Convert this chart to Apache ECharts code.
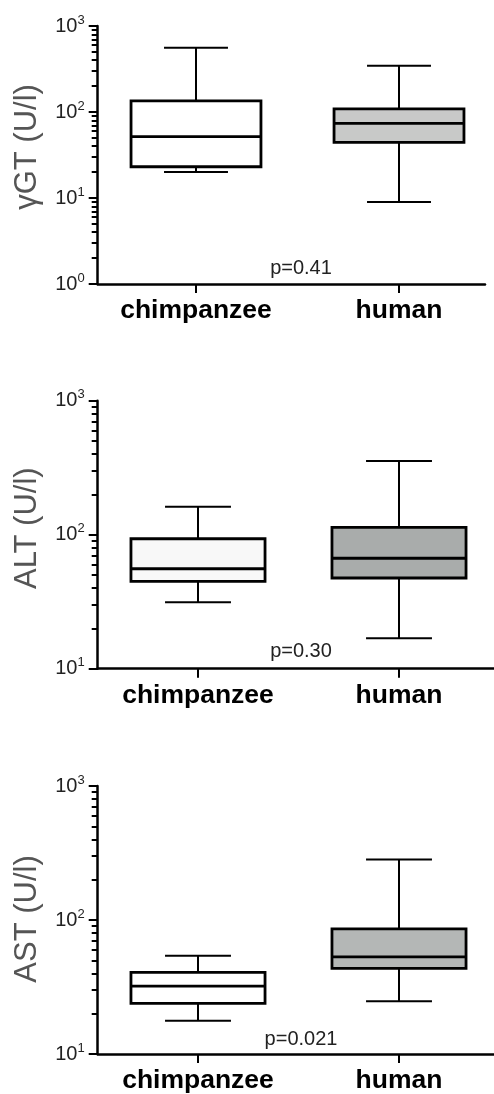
<!DOCTYPE html>
<html>
<head>
<meta charset="utf-8">
<script src="https://cdn.jsdelivr.net/npm/echarts@6/dist/echarts.min.js"></script>
<style>html,body{margin:0;padding:0;background:#fff}#c{width:494px;height:1094px}</style>
</head>
<body>
<div id="c"></div>
<script>
// ---- data (min, Q1, median, Q3, max) ----
var categories = ['chimpanzee', 'human'];
var ggtChimp = [20.1, 23.1, 51.6, 135, 560];
var ggtHuman = [9.0, 44.4, 73.9, 109, 346];
var altChimp = [31.3, 44.9, 55.7, 93.3, 162];
var altHuman = [16.9, 47.5, 66.7, 113.6, 355];
var astChimp = [17.7, 23.9, 32.1, 40.6, 54.0];
var astHuman = [24.8, 43.5, 53.1, 85.9, 283];
var yTitles = ['\u03b3GT (U/l)', 'ALT (U/l)', 'AST (U/l)'];
var pValues = ['p=0.41', 'p=0.30', 'p=0.021'];
var yMins = [1, 10, 10];
var yMax = 1000;

// ---- layout / style ----
var FONT = 'Liberation Sans, Arial, sans-serif';
var panels = [
  {top: 26, height: 258, width: 387.3, xmin: 0.5158, xmax: 2.4236, boxW: 0.64, capW: 0.315,
   fills: ['#ffffff', '#c8c9c8'], pLeft: 301, pTop: 258, nameShift: 16, data: [ggtChimp, ggtHuman]},
  {top: 400.7, height: 268, width: 396.3, xmin: 0.501, xmax: 2.4726, boxW: 0.667, capW: 0.328,
   fills: ['#f8f8f8', '#a9acab'], pLeft: 301, pTop: 641, nameShift: 13, data: [altChimp, altHuman]},
  {top: 786, height: 268.7, width: 396.3, xmin: 0.501, xmax: 2.4726, boxW: 0.667, capW: 0.328,
   fills: ['#ffffff', '#b4b7b6'], pLeft: 301, pTop: 1029, nameShift: 2, data: [astChimp, astHuman]}
];

function minorTicks(minV, maxV) {
  var out = [];
  for (var d = minV; d < maxV; d *= 10) {
    for (var k = 2; k <= 9; k++) out.push(Math.log10(k * d));
  }
  return out;
}

function makeRender(p) {
  return function (params, api) {
    var x = api.value(0);
    var mn = api.value(1), q1 = api.value(2), md = api.value(3), q3 = api.value(4), mx = api.value(5);
    var bl = api.coord([x - p.boxW / 2, q3]);
    var br = api.coord([x + p.boxW / 2, q1]);
    var cl = api.coord([x - p.capW / 2, mx])[0];
    var cr = api.coord([x + p.capW / 2, mx])[0];
    var pMax = api.coord([x, mx]), pMin = api.coord([x, mn]);
    var pQ1 = api.coord([x, q1]), pQ3 = api.coord([x, q3]), pMd = api.coord([x, md]);
    var wl = {stroke: '#000', lineWidth: 2, fill: null};
    var bw = {stroke: '#000', lineWidth: 2.8};
    return {
      type: 'group',
      children: [
        {type: 'line', shape: {x1: pMax[0], y1: pMax[1], x2: pQ3[0], y2: pQ3[1]}, style: wl},
        {type: 'line', shape: {x1: pMin[0], y1: pMin[1], x2: pQ1[0], y2: pQ1[1]}, style: wl},
        {type: 'line', shape: {x1: cl, y1: pMax[1], x2: cr, y2: pMax[1]}, style: wl},
        {type: 'line', shape: {x1: cl, y1: pMin[1], x2: cr, y2: pMin[1]}, style: wl},
        {type: 'rect', shape: {x: bl[0], y: bl[1], width: br[0] - bl[0], height: br[1] - bl[1]},
         style: {fill: p.fills[params.dataIndex], stroke: '#000', lineWidth: 2.8}},
        {type: 'line', shape: {x1: bl[0], y1: pMd[1], x2: br[0], y2: pMd[1]}, style: bw}
      ]
    };
  };
}

var grid = [], xAxis = [], yAxis = [], series = [], title = [];
panels.forEach(function (p, i) {
  grid.push({left: 97.7, top: p.top, width: p.width, height: p.height, containLabel: false});
  xAxis.push({
    type: 'value', gridIndex: i, min: p.xmin, max: p.xmax,
    axisLine: {show: true, lineStyle: {color: '#000', width: 2.5}},
    axisTick: {show: true, customValues: [1, 2], length: 9, lineStyle: {color: '#000', width: 2}},
    axisLabel: {show: true, customValues: [1, 2], margin: 13,
      formatter: function (v) { return categories[Math.round(v) - 1] || ''; },
      fontFamily: FONT, fontSize: 26.5, fontWeight: 'bold', color: '#000'},
    splitLine: {show: false}
  });
  yAxis.push({
    type: 'log', logBase: 10, gridIndex: i, min: yMins[i], max: yMax, position: 'left',
    name: yTitles[i], nameLocation: 'middle', nameGap: 55,
    nameTextStyle: {fontFamily: FONT, fontSize: 31, color: '#555', padding: [0, 0, 0, p.nameShift]},
    axisLine: {show: true, lineStyle: {color: '#000', width: 2.5}},
    axisTick: {show: true, length: 9, lineStyle: {color: '#000', width: 2}},
    axisLabel: {margin: 13, color: '#222',
      formatter: function (v) { return '{b|10}{s|' + Math.round(Math.log10(v)) + '}'; },
      rich: {b: {fontFamily: FONT, fontSize: 20, lineHeight: 20, color: '#222'},
             s: {fontFamily: FONT, fontSize: 13, lineHeight: 13, padding: [0, 0, 12, 0], color: '#222'}}},
    splitLine: {show: false}
  });
  yAxis.push({
    type: 'value', gridIndex: i, min: Math.log10(yMins[i]), max: Math.log10(yMax), position: 'left',
    axisLine: {show: false},
    axisTick: {show: true, customValues: minorTicks(yMins[i], yMax), length: 6, lineStyle: {color: '#000', width: 2}},
    axisLabel: {show: false},
    splitLine: {show: false}
  });
  series.push({
    type: 'custom', xAxisIndex: i, yAxisIndex: 2 * i,
    renderItem: makeRender(p),
    encode: {x: 0, y: [1, 2, 3, 4, 5]},
    data: p.data.map(function (d, j) { return [j + 1].concat(d); }),
    silent: true
  });
  title.push({text: pValues[i], left: p.pLeft, top: p.pTop, textAlign: 'center', padding: 0,
    textStyle: {fontFamily: FONT, fontSize: 20, fontWeight: 'normal', color: '#222'}});
});

var chart = echarts.init(document.getElementById('c'), null, {renderer: 'canvas'});
chart.setOption({
  animation: false,
  backgroundColor: '#fff',
  title: title,
  grid: grid,
  xAxis: xAxis,
  yAxis: yAxis,
  series: series
});
</script>
</body>
</html>
